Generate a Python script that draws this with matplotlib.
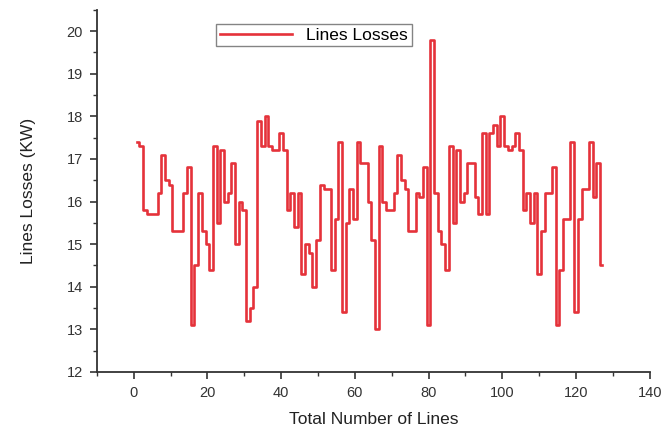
import numpy as np
import matplotlib.pyplot as plt
from matplotlib.ticker import MultipleLocator

plt.rcParams['font.family'] = ['Liberation Sans', 'DejaVu Sans']

# line losses per line
line_no = np.arange(1, 128)
losses = [17.4, 17.3, 15.8, 15.7, 15.7, 15.7, 16.2, 17.1, 16.5, 16.4,
          15.3, 15.3, 15.3, 16.2, 16.8, 13.1, 14.5, 16.2, 15.3, 15.0,
          14.4, 17.3, 15.5, 17.2, 16.0, 16.2, 16.9, 15.0, 16.0, 15.8,
          13.2, 13.5, 14.0, 17.9, 17.3, 18.0, 17.3, 17.2, 17.2, 17.6,
          17.2, 15.8, 16.2, 15.4, 16.2, 14.3, 15.0, 14.8, 14.0, 15.1,
          16.4, 16.3, 16.3, 14.4, 15.6, 17.4, 13.4, 15.5, 16.3, 15.6,
          17.4, 16.9, 16.9, 16.0, 15.1, 13.0, 17.3, 16.0, 15.8, 15.8,
          16.2, 17.1, 16.5, 16.3, 15.3, 15.3, 16.2, 16.1, 16.8, 13.1,
          19.8, 16.2, 15.3, 15.0, 14.4, 17.3, 15.5, 17.2, 16.0, 16.2,
          16.9, 16.9, 16.1, 15.7, 17.6, 15.7, 17.6, 17.8, 17.3, 18.0,
          17.3, 17.2, 17.3, 17.6, 17.2, 15.8, 16.2, 15.5, 16.2, 14.3,
          15.3, 16.2, 16.2, 16.8, 13.1, 14.4, 15.6, 15.6, 17.4, 13.4,
          15.6, 16.3, 16.3, 17.4, 16.1, 16.9, 14.5]

fig = plt.figure(figsize=(6.63, 4.29), dpi=100)
ax = fig.add_axes([0.146, 0.133, 0.834, 0.844])

ax.step(line_no, losses, where='mid', color='#e5323a', lw=1.9, label='Lines Losses')

ax.set_xlim(-10, 140)
ax.set_ylim(12, 20.5)
ax.xaxis.set_major_locator(MultipleLocator(20))
ax.xaxis.set_minor_locator(MultipleLocator(10))
ax.yaxis.set_major_locator(MultipleLocator(1))
ax.yaxis.set_minor_locator(MultipleLocator(0.5))

for s in ['top', 'right']:
    ax.spines[s].set_visible(False)
for s in ['left', 'bottom']:
    ax.spines[s].set_linewidth(1.3)
    ax.spines[s].set_color('#333333')

ax.tick_params(which='major', length=5, width=1.2, labelsize=10.5, colors='#333333', pad=5)
ax.tick_params(which='minor', length=3, width=1.0, colors='#333333')

ax.set_xlabel('Total Number of Lines', fontsize=12.5, color='#222222', labelpad=9)
ax.set_ylabel('Lines Losses (KW)', fontsize=12.5, color='#222222', labelpad=22)

leg = ax.legend(loc='upper left', bbox_to_anchor=(0.2, 0.985), fontsize=12.5,
                fancybox=False, edgecolor='#666666', handlelength=4.2,
                borderpad=0.2)
leg.get_frame().set_linewidth(1.0)

fig.savefig('out.png', dpi=100)
